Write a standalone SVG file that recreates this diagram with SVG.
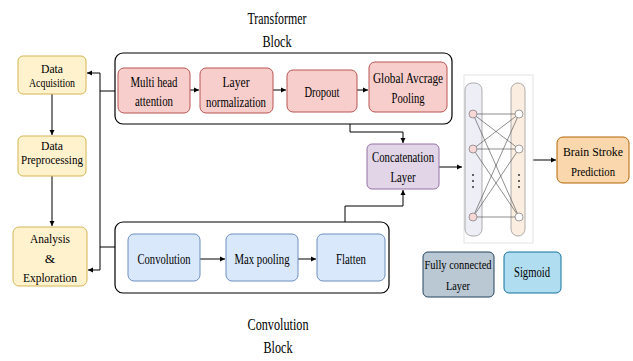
<svg xmlns="http://www.w3.org/2000/svg" width="633" height="361" viewBox="0 0 633 361" font-family="Liberation Serif, serif">
<defs>
<marker id="ah" markerWidth="6" markerHeight="6" refX="5" refY="3" orient="auto" markerUnits="userSpaceOnUse"><path d="M0,0.5 L5,3 L0,5.5 Z" fill="#000"/></marker>
</defs>
<style>
text{font-family:"Liberation Serif",serif;font-size:15px;fill:#000;text-anchor:middle}
text.sm{font-size:12px}
text.md{font-size:13.5px}
text.title{font-size:17px}
.yel{fill:#fff2cc;stroke:#d6b656;stroke-width:1}
.red{fill:#f8cecc;stroke:#b85450;stroke-width:1}
.blu{fill:#dae8fc;stroke:#6c8ebf;stroke-width:1}
.pur{fill:#e1d5e7;stroke:#9673a6;stroke-width:1}
.org{fill:#fad7ac;stroke:#b46504;stroke-width:1}
.sig{fill:#b1ddf0;stroke:#10739e;stroke-width:1}
.fc{fill:#bac8d3;stroke:#23445d;stroke-width:1}
.blk{fill:#fff;stroke:#000;stroke-width:1.2}
.c{fill:none;stroke:#000;stroke-width:1}
.ca{fill:none;stroke:#000;stroke-width:1;marker-end:url(#ah)}
.nn{stroke:#444;stroke-width:0.6}
</style>
<rect width="633" height="361" fill="#fff"/>

<g id="transformer-block">
<rect class="blk" x="115" y="53" width="337" height="71" rx="8"/>
<text class="title" x="277" y="24" textLength="59" lengthAdjust="spacingAndGlyphs">Transformer</text>
<text class="title" x="277" y="47" textLength="29" lengthAdjust="spacingAndGlyphs">Block</text>
</g>
<g id="convolution-block">
<rect class="blk" x="115" y="222" width="274" height="71" rx="8"/>
<text class="title" x="278" y="330" textLength="61" lengthAdjust="spacingAndGlyphs">Convolution</text>
<text class="title" x="278" y="353" textLength="29" lengthAdjust="spacingAndGlyphs">Block</text>
</g>

<g id="connectors">
<path class="ca" d="M52,94 V135"/>
<path class="ca" d="M52,176 V226"/>
<path class="c" d="M100,73 V270"/>
<path class="ca" d="M100,73 H87"/>
<path class="ca" d="M100,270 H88"/>
<path class="c" d="M100,91 H115"/>
<path class="c" d="M100,247 H115"/>
<path class="ca" d="M190,90 H199"/>
<path class="ca" d="M273,90 H286"/>
<path class="ca" d="M357,90 H368"/>
<path class="ca" d="M200,259 H225"/>
<path class="ca" d="M298,259 H316"/>
<path class="ca" d="M350,124 V132 H403 V143"/>
<path class="ca" d="M345,222 V206 H403 V190"/>
<path class="ca" d="M439,167 H462"/>
<path class="ca" d="M533,160 H556"/>
</g>

<g id="data-acquisition">
<rect class="yel" x="18" y="56" width="68" height="38" rx="5"/>
<text class="sm" x="52" y="73" textLength="22" lengthAdjust="spacingAndGlyphs">Data</text>
<text class="sm" x="52" y="87" textLength="46" lengthAdjust="spacingAndGlyphs">Acquisition</text>
</g>
<g id="data-preprocessing">
<rect class="yel" x="18" y="136" width="68" height="40" rx="5"/>
<text class="sm" x="52" y="150" textLength="22" lengthAdjust="spacingAndGlyphs">Data</text>
<text class="sm" x="52" y="164" textLength="62" lengthAdjust="spacingAndGlyphs">Preprocessing</text>
</g>
<g id="analysis-exploration">
<rect class="yel" x="13" y="227" width="74" height="59" rx="6"/>
<text class="md" x="50" y="243" textLength="40" lengthAdjust="spacingAndGlyphs">Analysis</text>
<text class="md" x="50" y="263">&amp;</text>
<text class="md" x="50" y="282" textLength="54" lengthAdjust="spacingAndGlyphs">Exploration</text>
</g>

<g id="multi-head-attention">
<rect class="red" x="118" y="68" width="72" height="45" rx="6"/>
<text x="154" y="87" textLength="47" lengthAdjust="spacingAndGlyphs">Multi head</text>
<text x="154" y="106" textLength="38" lengthAdjust="spacingAndGlyphs">attention</text>
</g>
<g id="layer-normalization">
<rect class="red" x="200" y="68" width="73" height="45" rx="6"/>
<text x="236" y="87" textLength="27" lengthAdjust="spacingAndGlyphs">Layer</text>
<text x="236" y="107" textLength="60" lengthAdjust="spacingAndGlyphs">normalization</text>
</g>
<g id="dropout">
<rect class="red" x="287" y="70" width="70" height="42" rx="6"/>
<text x="322" y="97" textLength="35" lengthAdjust="spacingAndGlyphs">Dropout</text>
</g>
<g id="global-average-pooling">
<rect class="red" x="369" y="62" width="78" height="50" rx="6"/>
<text x="408" y="83" textLength="70" lengthAdjust="spacingAndGlyphs">Global Avcrage</text>
<text x="408" y="103" textLength="33" lengthAdjust="spacingAndGlyphs">Pooling</text>
</g>

<g id="convolution">
<rect class="blu" x="128" y="234" width="72" height="47" rx="6"/>
<text x="164" y="264" textLength="53" lengthAdjust="spacingAndGlyphs">Convolution</text>
</g>
<g id="max-pooling">
<rect class="blu" x="226" y="234" width="72" height="47" rx="6"/>
<text x="262" y="264" textLength="55" lengthAdjust="spacingAndGlyphs">Max pooling</text>
</g>
<g id="flatten">
<rect class="blu" x="317" y="234" width="68" height="47" rx="6"/>
<text x="351" y="264" textLength="30" lengthAdjust="spacingAndGlyphs">Flatten</text>
</g>

<g id="concatenation-layer">
<rect class="pur" x="367" y="144" width="72" height="45" rx="5"/>
<text x="403" y="162" textLength="62" lengthAdjust="spacingAndGlyphs">Concatenation</text>
<text x="403" y="182" textLength="25" lengthAdjust="spacingAndGlyphs">Layer</text>
</g>

<g id="neural-network">
<rect x="464" y="75" width="69" height="168" fill="#fff" stroke="#ddd" stroke-width="0.8"/>
<rect x="465" y="83" width="17" height="153" rx="7" fill="#eeeef6" stroke="#999" stroke-width="0.8"/>
<rect x="511" y="83" width="14" height="153" rx="7" fill="#fbeee0" stroke="#999" stroke-width="0.8"/>
<g class="nn">
<line x1="473" y1="114" x2="519" y2="114"/>
<line x1="473" y1="114" x2="519" y2="149"/>
<line x1="473" y1="114" x2="519" y2="217"/>
<line x1="473" y1="149" x2="519" y2="114"/>
<line x1="473" y1="149" x2="519" y2="149"/>
<line x1="473" y1="149" x2="519" y2="217"/>
<line x1="473" y1="217" x2="519" y2="114"/>
<line x1="473" y1="217" x2="519" y2="149"/>
<line x1="473" y1="217" x2="519" y2="217"/>
</g>
<g fill="#f8d7d7" stroke="#777" stroke-width="0.7">
<circle cx="473" cy="114" r="4"/>
<circle cx="473" cy="149" r="4"/>
<circle cx="473" cy="217" r="4"/>
</g>
<g fill="#fff" stroke="#777" stroke-width="0.7">
<circle cx="519" cy="114" r="4"/>
<circle cx="519" cy="149" r="4"/>
<circle cx="519" cy="217" r="4"/>
</g>
<g fill="#333">
<circle cx="473" cy="175" r="1"/><circle cx="473" cy="181" r="1"/><circle cx="473" cy="187" r="1"/>
<circle cx="519" cy="175" r="1"/><circle cx="519" cy="181" r="1"/><circle cx="519" cy="187" r="1"/>
</g>
</g>

<g id="brain-stroke-prediction">
<rect class="org" x="557" y="137" width="72" height="46" rx="6"/>
<text class="md" x="593" y="156" textLength="60" lengthAdjust="spacingAndGlyphs">Brain Stroke</text>
<text class="md" x="593" y="176" textLength="44" lengthAdjust="spacingAndGlyphs">Prediction</text>
</g>
<g id="fully-connected-layer">
<rect class="fc" x="423" y="252" width="71" height="45" rx="5"/>
<text class="md" x="458" y="269" textLength="67" lengthAdjust="spacingAndGlyphs">Fully connected</text>
<text class="md" x="458" y="290" textLength="24" lengthAdjust="spacingAndGlyphs">Layer</text>
</g>
<g id="sigmoid">
<rect class="sig" x="504" y="252" width="57" height="41" rx="5"/>
<text x="532" y="277" textLength="36" lengthAdjust="spacingAndGlyphs">Sigmoid</text>
</g>
</svg>
